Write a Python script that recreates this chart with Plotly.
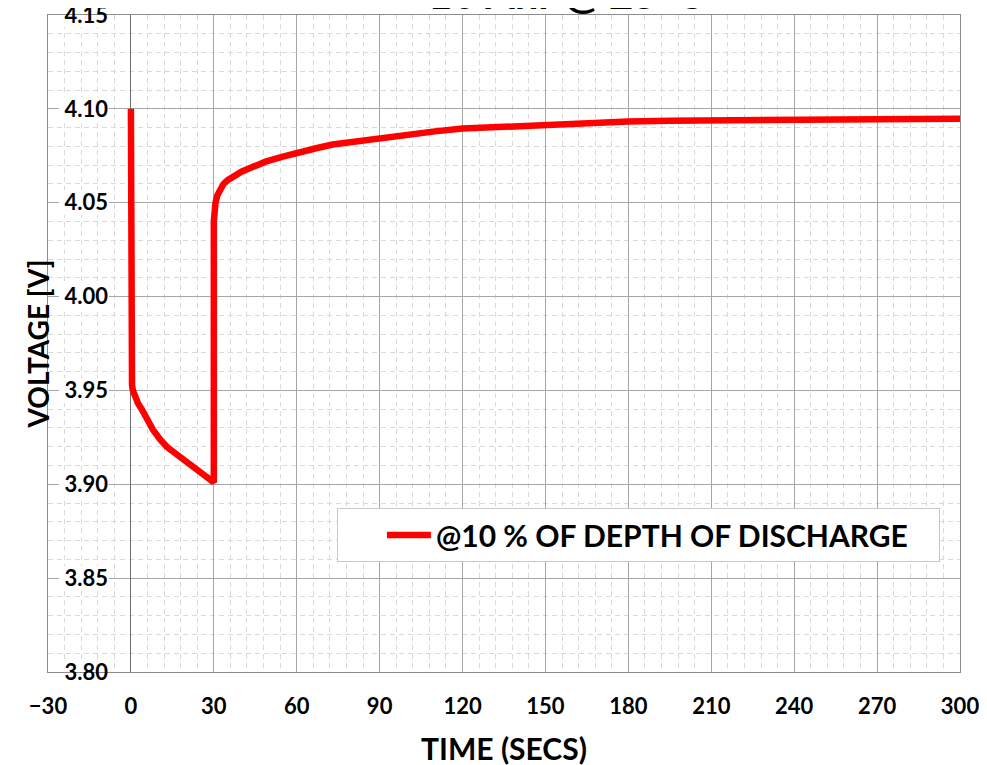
import plotly.graph_objects as go

# ---- data ----
time_s = [0, 0, 0.15, 0.4, 0.7, 1.5, 2.6, 3.9, 6, 8, 10.5, 13, 16.5, 20, 25, 30,
          30, 30.2, 30.6, 31.3, 32.2, 33.5, 35, 37, 40, 44, 49, 55, 61, 67, 73, 85, 97,
          110, 120, 135, 150, 165, 180, 195, 210, 240, 270, 300]
voltage = [4.100, 3.962, 3.957, 3.953, 3.950, 3.946, 3.943, 3.940, 3.934, 3.929, 3.924,
           3.920, 3.916, 3.912, 3.906, 3.901,
           4.040, 4.046, 4.050, 4.054, 4.057, 4.060, 4.062, 4.064, 4.0665, 4.069, 4.072,
           4.0745, 4.077, 4.079, 4.081, 4.0835, 4.086, 4.088, 4.0895, 4.0905, 4.0915,
           4.0925, 4.0932, 4.0936, 4.0939, 4.0943, 4.0945, 4.0947]
series_name = "@10 % OF DEPTH OF DISCHARGE"
title_text = "10 Ahr @ 25°C"
x_title = "TIME (SECS)"
y_title = "VOLTAGE [V]"
y_ticks = [3.80, 3.85, 3.90, 3.95, 4.00, 4.05, 4.10, 4.15]

FONT = "Lato"

fig = go.Figure()
fig.add_trace(go.Scatter(
    x=time_s, y=voltage, mode="lines", name=series_name,
    line=dict(color="#ff0000", width=6.5),
))

# white backing behind the inside y tick labels
for v in y_ticks:
    fig.add_shape(type="rect", xref="x", yref="y", x0=-26, x1=-8, y0=v - 0.0065, y1=v + 0.0065,
                  fillcolor="white", line=dict(width=0), layer="between")

fig.add_annotation(text=title_text, xref="paper", yref="paper", x=0.567, y=1,
                   xanchor="center", yanchor="bottom", yshift=-5, showarrow=False,
                   font=dict(family=FONT, size=42, color="black", weight="bold"))

minor_grid = dict(showgrid=True, gridcolor="#d9d9d9", gridwidth=1, griddash="5px,4px")

fig.update_layout(
    width=987, height=765,
    margin=dict(l=40, r=35, t=7, b=101),
    paper_bgcolor="white", plot_bgcolor="white",
    font=dict(family=FONT, color="black"),
    showlegend=True,
    legend=dict(
        orientation="h",
        x=0.978, y=0.2496, xanchor="right", yanchor="top",
        bgcolor="white", bordercolor="#c8c8c8", borderwidth=1,
        font=dict(family=FONT, size=30, color="black", weight="bold"),
        indentation=44, entrywidth=498, itemwidth=44,
    ),
    xaxis=dict(
        range=[-30, 300], dtick=30, tick0=0, autorange=False,
        showgrid=True, gridcolor="#a6a6a6", gridwidth=1,
        zeroline=True, zerolinecolor="#6e6e6e", zerolinewidth=1,
        showline=True, linecolor="#8c8c8c", linewidth=1, mirror=True,
        ticks="", ticklabelstandoff=15,
        tickfont=dict(family=FONT, size=22, color="black", weight="bold"),
        minor=dict(dtick=6, **minor_grid),
        title=dict(text=x_title, standoff=20,
                   font=dict(family=FONT, size=30, color="black", weight="bold")),
        automargin=False,
    ),
    yaxis=dict(
        range=[3.80, 4.15], dtick=0.05, tick0=3.80, autorange=False, tickformat=".2f",
        showgrid=True, gridcolor="#a6a6a6", gridwidth=1, zeroline=False,
        showline=True, linecolor="#8c8c8c", linewidth=1, mirror=True,
        ticks="", ticklabelposition="inside", ticklabelstandoff=18,
        ticklabeloverflow="allow",
        tickfont=dict(family=FONT, size=22, color="black", weight="bold"),
        minor=dict(dtick=0.01, **minor_grid),
        title=dict(text=y_title, standoff=6,
                   font=dict(family=FONT, size=28, color="black", weight="bold")),
        automargin=False,
    ),
)

fig.write_html("out.html")
